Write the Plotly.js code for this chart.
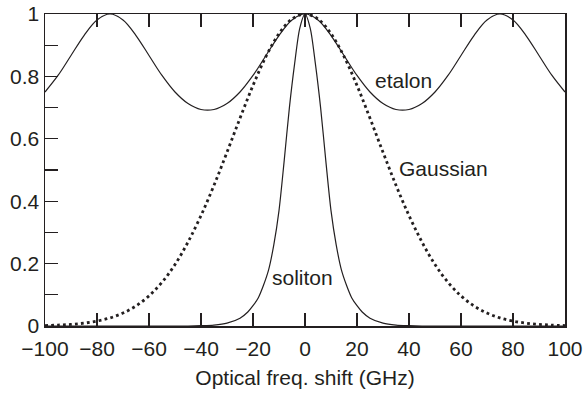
<!DOCTYPE html>
<html>
<head>
<meta charset="utf-8">
<script src="https://cdn.plot.ly/plotly-3.0.1.min.js"></script>
<style>html,body{margin:0;padding:0;background:#fff;}#chart{width:583px;height:394px;}</style>
</head>
<body>
<div id="chart"></div>
<script>
// Frequency grid (GHz)
var freqEtalon = [-100,-95,-90,-85,-80,-75,-70,-65,-60,-55,-50,-45,-40,-35,-30,-25,-20,-15,-10,-5,0,5,10,15,20,25,30,35,40,45,50,55,60,65,70,75,80,85,90,95,100];
var etalon = [0.750,0.803,0.867,0.931,0.981,1.000,0.981,0.931,0.867,0.803,0.750,0.713,0.694,0.694,0.713,0.750,0.803,0.867,0.931,0.981,1.000,0.981,0.931,0.867,0.803,0.750,0.713,0.694,0.694,0.713,0.750,0.803,0.867,0.931,0.981,1.000,0.981,0.931,0.867,0.803,0.750];

var freqGauss = [-100,-95,-90,-85,-80,-75,-70,-65,-60,-55,-50,-45,-40,-35,-30,-25,-20,-15,-10,-5,0,5,10,15,20,25,30,35,40,45,50,55,60,65,70,75,80,85,90,95,100];
var gaussian = [0.0015,0.0029,0.0052,0.0092,0.0157,0.0259,0.0415,0.0643,0.0966,0.140,0.197,0.269,0.354,0.451,0.557,0.666,0.771,0.864,0.937,0.984,1.000,0.984,0.937,0.864,0.771,0.666,0.557,0.451,0.354,0.269,0.197,0.140,0.0966,0.0643,0.0415,0.0259,0.0157,0.0092,0.0052,0.0029,0.0015];

var freqSoliton = [-100,-80,-60,-45,-40,-35,-30,-25,-22,-20,-18,-16,-14,-12,-10,-8,-6,-4,-2,0,2,4,6,8,10,12,14,16,18,20,22,25,30,35,40,45,60,80,100];
var soliton = [0,0,0,0,0.001,0.003,0.009,0.025,0.045,0.065,0.09,0.13,0.18,0.26,0.37,0.53,0.70,0.84,0.955,1.0,0.955,0.84,0.70,0.53,0.37,0.26,0.18,0.13,0.09,0.065,0.045,0.025,0.009,0.003,0.001,0,0,0,0];

var xTickVals = [-100,-80,-60,-40,-20,0,20,40,60,80,100];
var xTickText = ['\u2212100','\u221280','\u221260','\u221240','\u221220','0','20','40','60','80','100'];
var yTickVals = [0,0.2,0.4,0.6,0.8,1];
var yTickText = ['0','0.2','0.4','0.6','0.8','1'];

var labelText = ['etalon','Gaussian','soliton'];
var xTitle = 'Optical freq. shift (GHz)';

var ink = '#231f20';
var fontFam = 'Liberation Sans, Arial, Helvetica, sans-serif';

var traces = [
  {x: freqEtalon, y: etalon, type: 'scatter', mode: 'lines', line: {color: ink, width: 1.2, shape: 'spline'}, hoverinfo: 'none'},
  {x: freqGauss, y: gaussian, type: 'scatter', mode: 'lines', line: {color: ink, width: 2.8, dash: '2.8px,3.2px', shape: 'spline'}, hoverinfo: 'none'},
  {x: freqSoliton, y: soliton, type: 'scatter', mode: 'lines', line: {color: ink, width: 1.2, shape: 'spline', smoothing: 0.8}, hoverinfo: 'none'}
];

var layout = {
  width: 583, height: 394,
  margin: {l: 45, r: 18, t: 14, b: 68},
  paper_bgcolor: '#fff', plot_bgcolor: '#fff',
  showlegend: false,
  font: {family: fontFam, color: ink, size: 21},
  xaxis: {
    range: [-100, 100], tickvals: xTickVals, ticktext: xTickText,
    ticks: 'inside', ticklen: 13, tickwidth: 1.3, tickcolor: ink,
    showline: true, linecolor: ink, linewidth: 1.5, mirror: 'ticks',
    showgrid: false, zeroline: false, ticklabelstandoff: 3,
    tickfont: {size: 21, family: fontFam, color: ink},
    title: {text: xTitle, font: {size: 21, family: fontFam, color: ink}, standoff: 11}
  },
  yaxis: {
    range: [0, 1], tickvals: yTickVals, ticktext: yTickText,
    ticks: 'inside', ticklen: 13, tickwidth: 1.3, tickcolor: ink,
    minor: {tickvals: [0.1,0.3,0.5,0.7,0.9], ticks: 'inside', ticklen: 13, tickwidth: 1.3, tickcolor: ink},
    showline: true, linecolor: ink, linewidth: 1.5, mirror: true,
    showgrid: false, zeroline: false,
    tickfont: {size: 21, family: fontFam, color: ink}
  },
  annotations: [
    {x: 38, y: 0.788, xref: 'x', yref: 'y', text: labelText[0], showarrow: false, font: {size: 21, family: fontFam, color: ink}},
    {x: 53.4, y: 0.505, xref: 'x', yref: 'y', text: labelText[1], showarrow: false, font: {size: 21, family: fontFam, color: ink}},
    {x: -1.1, y: 0.156, xref: 'x', yref: 'y', text: labelText[2], showarrow: false, font: {size: 21, family: fontFam, color: ink}}
  ]
};

Plotly.newPlot('chart', traces, layout, {staticPlot: true, displayModeBar: false});
</script>
</body>
</html>
